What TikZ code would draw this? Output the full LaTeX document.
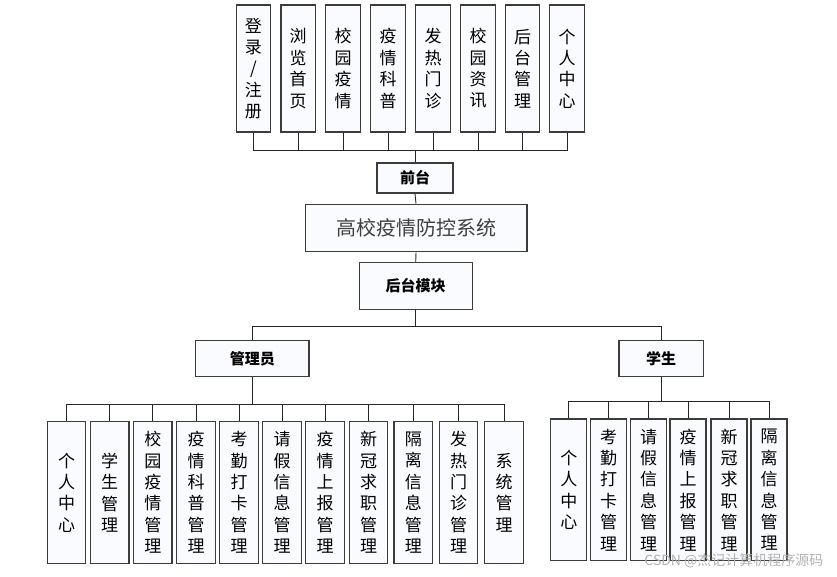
\documentclass[tikz,border=0pt]{standalone}
\usepackage{fontspec}
\setmainfont{Noto Sans CJK SC}
\definecolor{boxfill}{HTML}{FAFBFF}
\definecolor{boxline}{HTML}{3C3C3C}
\tikzset{
  vbox/.style={draw=boxline, line width=1.3pt, fill=boxfill, align=center,
    inner sep=0pt, font=\fontsize{17}{21.4}\selectfont},
  topbox/.style={vbox, minimum width=34.5, minimum height=127},
  admbox/.style={vbox, minimum width=38.5, minimum height=141.6},
  stubox/.style={vbox, minimum width=36, minimum height=141.7},
  hbox/.style={draw=boxline, line width=1.3pt, fill=boxfill, inner sep=0pt,
    font=\fontsize{15}{17}\selectfont\bfseries},
  link/.style={draw=black!85, line width=0.9pt}
}
\begin{document}
\begin{tikzpicture}[x=1pt, y=-1pt]
    \useasboundingbox (0,0) rectangle (837,577);

    % Front end
    \node[topbox] (login)    at (253.4,68.5) {登\\录\\/\\注\\册};
    \node[topbox] (browse)   at (298.2,68.5) {浏\\览\\首\\页};
    \node[topbox] (campus)   at (343,68.5)   {校\\园\\疫\\情};
    \node[topbox] (science)  at (388,68.5)   {疫\\情\\科\\普};
    \node[topbox] (fever)    at (433,68.5)   {发\\热\\门\\诊};
    \node[topbox] (news)     at (478,68.5)   {校\\园\\资\\讯};
    \node[topbox] (backend)  at (522.5,68.5) {后\\台\\管\\理};
    \node[topbox] (personal) at (567,68.5)   {个\\人\\中\\心};
    \node[hbox, minimum width=76, minimum height=30] (front) at (415,178) {前台};
    \coordinate (frontbus) at (415,150);
    \draw[link] (login.south) |- (frontbus);
    \draw[link] (browse.south) |- (frontbus);
    \draw[link] (campus.south) |- (frontbus);
    \draw[link] (science.south) |- (frontbus);
    \draw[link] (fever.south) |- (frontbus);
    \draw[link] (news.south) |- (frontbus);
    \draw[link] (backend.south) |- (frontbus);
    \draw[link] (personal.south) |- (frontbus);
    \draw[link] (frontbus) -- (front.north);

    % System
    \node[draw=boxline, line width=1.3pt, fill=boxfill, minimum width=221.7,
      minimum height=47.4, text=black!75, font=\fontsize{20}{23}\selectfont]
      (system) at (416,228) {高校疫情防控系统};
    \node[hbox, minimum width=113, minimum height=46.6] (back) at (415.7,286) {后台模块};
    \draw[link] (front.south) -- (system.north);
    \draw[link] (system.south) -- (back.north);

    % Roles
    \node[hbox, minimum width=113.3, minimum height=36] (admin) at (252.3,358.7) {管理员};
    \node[hbox, minimum width=84.3, minimum height=36] (student) at (661,358.7) {学生};
    \coordinate (rolebus) at (415.7,326.7);
    \draw[link] (back.south) -- (rolebus);
    \draw[link] (admin.north) |- (rolebus);
    \draw[link] (student.north) |- (rolebus);

    % Admin modules
    \node[admbox] (a1)  at (66.5,492.5)  {个\\人\\中\\心};
    \node[admbox] (a2)  at (109.7,492.5) {学\\生\\管\\理};
    \node[admbox] (a3)  at (152.8,492.5) {校\\园\\疫\\情\\管\\理};
    \node[admbox] (a4)  at (196,492.5)   {疫\\情\\科\\普\\管\\理};
    \node[admbox] (a5)  at (239,492.5)   {考\\勤\\打\\卡\\管\\理};
    \node[admbox] (a6)  at (282,492.5)   {请\\假\\信\\息\\管\\理};
    \node[admbox] (a7)  at (325,492.5)   {疫\\情\\上\\报\\管\\理};
    \node[admbox] (a8)  at (368.5,492.5) {新\\冠\\求\\职\\管\\理};
    \node[admbox] (a9)  at (413.3,492.5) {隔\\离\\信\\息\\管\\理};
    \node[admbox] (a10) at (458.5,492.5) {发\\热\\门\\诊\\管\\理};
    \node[admbox] (a11) at (504,492.5)   {系\\统\\管\\理};
    \coordinate (adminbus) at (252.3,404);
    \draw[link] (admin.south) -- (adminbus);
    \draw[link] (a1.north) |- (adminbus);
    \draw[link] (a2.north) |- (adminbus);
    \draw[link] (a3.north) |- (adminbus);
    \draw[link] (a4.north) |- (adminbus);
    \draw[link] (a5.north) |- (adminbus);
    \draw[link] (a6.north) |- (adminbus);
    \draw[link] (a7.north) |- (adminbus);
    \draw[link] (a8.north) |- (adminbus);
    \draw[link] (a9.north) |- (adminbus);
    \draw[link] (a10.north) |- (adminbus);
    \draw[link] (a11.north) |- (adminbus);

    % Student modules
    \node[stubox] (s1) at (568.8,489.9) {个\\人\\中\\心};
    \node[stubox] (s2) at (608.7,489.9) {考\\勤\\打\\卡\\管\\理};
    \node[stubox] (s3) at (648.5,489.9) {请\\假\\信\\息\\管\\理};
    \node[stubox] (s4) at (688,489.9)   {疫\\情\\上\\报\\管\\理};
    \node[stubox] (s5) at (729,489.9)   {新\\冠\\求\\职\\管\\理};
    \node[stubox] (s6) at (769,489.9)   {隔\\离\\信\\息\\管\\理};
    \coordinate (studentbus) at (661,401);
    \draw[link] (student.south) -- (studentbus);
    \draw[link] (s1.north) |- (studentbus);
    \draw[link] (s2.north) |- (studentbus);
    \draw[link] (s3.north) |- (studentbus);
    \draw[link] (s4.north) |- (studentbus);
    \draw[link] (s5.north) |- (studentbus);
    \draw[link] (s6.north) |- (studentbus);

    % Watermark
    \node[text=black!30, font=\fontsize{14}{16}\selectfont, anchor=east] (mark)
      at (827,561) {CSDN @杰记计算机程序源码};
\end{tikzpicture}
\end{document}
